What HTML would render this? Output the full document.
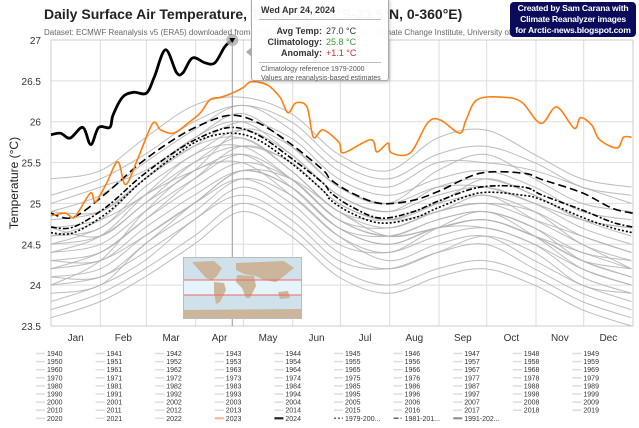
<!DOCTYPE html>
<html><head><meta charset="utf-8">
<style>
body{margin:0;background:#fff;font-family:"Liberation Sans",sans-serif;}
#wrap{position:relative;width:639px;height:428px;overflow:hidden;}
svg text{font-family:"Liberation Sans",sans-serif;}
</style></head>
<body><div id="wrap">
<svg id="chart" width="639" height="428"></svg>
</div>
<script>
const days2024=[0,6,12,20,25,30,37,39,45,52,60,65,72,79,83,89,97,103,109,112,114];
const vals2024=[25.84,25.86,25.80,25.93,25.72,25.93,25.93,26.08,26.30,26.36,26.35,26.55,26.88,26.60,26.60,26.78,26.72,26.72,26.91,26.97,27.0];
const days2023=[0,9,14,18,25,28,35,42,47,55,64,69,77,86,94,100,107,114,121,126,136,144,149,154,161,165,171,181,184,201,205,212,214,226,237,245,257,261,268,284,296,308,318,329,333,340,345,356,360,365];
const vals2023=[24.85,24.88,24.82,24.92,25.13,25.02,25.25,25.51,25.23,25.57,25.98,25.90,25.86,25.98,26.11,26.27,26.30,26.35,26.42,26.49,26.45,26.30,26.11,26.23,26.18,25.81,25.90,25.75,25.62,25.78,25.63,25.74,25.62,25.62,25.99,26.02,25.86,26.02,26.27,26.30,26.24,25.98,26.18,25.92,26.05,25.96,25.78,25.68,25.81,25.81];
const climDays=[0,14,35,56,77,94,113,130,150,171,176,189,207,228,245,270,297,309,334,353,366];
const clim9120=[24.88,24.83,25.13,25.49,25.78,25.96,26.08,25.99,25.74,25.41,25.29,25.13,25.00,25.04,25.16,25.37,25.37,25.29,25.13,24.94,24.88];
const clim8110=[24.71,24.71,24.96,25.32,25.62,25.81,25.93,25.84,25.57,25.25,25.13,24.96,24.82,24.90,25.04,25.20,25.20,25.10,24.92,24.77,24.71];
const clim7900=[24.64,24.64,24.88,25.25,25.57,25.78,25.86,25.78,25.51,25.16,25.04,24.88,24.76,24.82,24.96,25.13,25.10,25.04,24.83,24.70,24.64];
const grayDays=[0,31,59,90,120,151,181,212,243,273,304,334,365];
const graySeries=[
[24.6,24.7,25.2,25.6,25.9,25.6,25.1,24.9,25.1,25.2,25.0,24.7,24.5],
[24.4,24.5,24.9,25.3,25.6,25.3,24.8,24.7,24.9,25.0,24.9,24.6,24.4],
[24.3,24.3,24.7,25.1,25.4,25.2,24.7,24.5,24.7,24.8,24.6,24.4,24.2],
[24.8,24.9,25.3,25.7,26.0,25.8,25.3,25.1,25.3,25.4,25.2,24.9,24.8],
[24.9,25.1,25.5,25.9,26.2,25.9,25.4,25.2,25.5,25.5,25.4,25.2,25.0],
[24.1,24.2,24.6,25.0,25.3,25.0,24.5,24.4,24.6,24.7,24.5,24.2,24.0],
[24.0,24.1,24.4,24.8,25.2,24.9,24.4,24.2,24.4,24.6,24.4,24.0,23.9],
[24.5,24.6,25.0,25.5,25.8,25.4,24.9,24.8,25.0,25.1,24.9,24.5,24.3],
[24.7,24.8,25.1,25.5,25.7,25.5,25.0,24.8,25.0,25.3,25.1,24.8,24.6],
[23.9,24.0,24.5,24.9,25.3,25.1,24.6,24.3,24.5,24.6,24.3,24.0,23.8],
[24.2,24.4,24.8,25.2,25.5,25.3,24.8,24.6,24.8,24.9,24.7,24.3,24.1],
[25.1,25.3,25.6,26.0,26.2,26.0,25.5,25.3,25.6,25.7,25.5,25.2,25.1],
[24.6,24.8,25.3,25.7,25.8,25.4,24.9,24.7,24.9,25.0,24.8,24.6,24.4],
[24.3,24.4,24.8,25.3,25.7,25.5,25.0,24.8,24.9,25.1,24.8,24.5,24.2],
[23.8,24.0,24.3,24.8,25.1,24.8,24.3,24.2,24.4,24.5,24.2,23.9,23.7],
[24.5,24.7,25.1,25.4,25.6,25.2,24.7,24.6,24.8,24.9,24.7,24.4,24.3],
[25.3,25.4,25.8,26.2,26.3,26.1,25.6,25.4,25.8,25.9,25.6,25.3,25.2],
[24.2,24.3,24.6,25.0,25.4,25.2,24.7,24.5,24.7,24.7,24.5,24.1,23.9],
[23.7,23.9,24.2,24.6,25.0,24.7,24.2,24.0,24.2,24.3,24.1,23.8,23.6],
[24.0,24.3,24.9,25.4,25.5,25.1,24.6,24.4,24.7,24.9,24.6,24.2,24.0],
[24.7,24.6,25.0,25.4,25.9,25.7,25.2,25.0,25.2,25.2,25.0,24.8,24.7],
[25.0,25.2,25.4,25.8,26.1,25.7,25.2,25.0,25.4,25.6,25.3,25.0,24.9],
[24.4,24.6,25.1,25.6,25.7,25.3,24.8,24.6,24.7,24.8,24.6,24.3,24.1],
[23.6,23.8,24.1,24.5,24.9,24.6,24.1,23.9,24.1,24.2,24.0,23.7,23.5],
[24.1,24.1,24.5,25.0,25.4,25.3,24.9,24.6,24.7,24.8,24.6,24.3,24.2],
[24.9,24.9,25.3,25.8,26.0,25.6,25.1,24.9,25.2,25.3,25.1,24.8,24.7]
];
const yTicks=[23.5,24,24.5,25,25.5,26,26.5,27];
const monthLabels=["Jan","Feb","Mar","Apr","May","Jun","Jul","Aug","Sep","Oct","Nov","Dec"];
const monthStarts=[0,31,60,91,121,152,182,213,244,274,305,335,366];

const NS="http://www.w3.org/2000/svg";
const svg=document.getElementById('chart');
const L=51,R=633,T=40,B=326,ymin=23.5,ymax=27;
function xS(d){return L+d/366*(R-L);}
function yS(v){return B-(v-ymin)/(ymax-ymin)*(B-T);}
function mk(tag,attrs,parent){const e=document.createElementNS(NS,tag);for(const k in attrs)e.setAttribute(k,attrs[k]);(parent||svg).appendChild(e);return e;}
function smooth(pts){let d="M"+pts[0][0].toFixed(1)+","+pts[0][1].toFixed(1);for(let i=0;i<pts.length-1;i++){const p0=pts[i-1]||pts[i],p1=pts[i],p2=pts[i+1],p3=pts[i+2]||p2;const c1x=p1[0]+(p2[0]-p0[0])/6,c1y=p1[1]+(p2[1]-p0[1])/6,c2x=p2[0]-(p3[0]-p1[0])/6,c2y=p2[1]-(p3[1]-p1[1])/6;d+=` C${c1x.toFixed(1)},${c1y.toFixed(1)} ${c2x.toFixed(1)},${c2y.toFixed(1)} ${p2[0].toFixed(1)},${p2[1].toFixed(1)}`;}return d;}
function series(ds,vs){return ds.map((d,i)=>[xS(d),yS(vs[i])]);}

yTicks.forEach(t=>{
  const g=mk('line',{x1:L,x2:R,y1:yS(t),y2:yS(t),stroke:'#ddd','stroke-width':1});
  
  
  const tx=mk('text',{x:41,y:yS(t)+4,'text-anchor':'end','font-size':10,fill:'#333'});
  tx.textContent=t;
  
  
});
monthStarts.forEach(m=>{
  const g=mk('line',{x1:xS(m),x2:xS(m),y1:T,y2:B,stroke:'#ddd','stroke-width':1});
  
  
});
monthLabels.forEach((m,i)=>{
  const tx=mk('text',{x:xS((monthStarts[i]+monthStarts[i+1])/2),y:341,'text-anchor':'middle','font-size':10,fill:'#333'});
  tx.textContent=m;
  
  
});
mk('rect',{x:L,y:T,width:R-L,height:B-T,fill:'none',stroke:'#ccc'});
const yt=mk('text',{x:0,y:0,transform:'translate(18,183) rotate(-90)','text-anchor':'middle','font-size':12,fill:'#222'});
yt.textContent='Temperature (°C)';



graySeries.forEach(s=>{
  const p=mk('path',{d:smooth(series(grayDays,s)),fill:'none',stroke:'#b0b0b0','stroke-width':1,opacity:0.85});
  
  
});
[[clim7900,'2,2','clim-1979-2000'],[clim8110,'6,2,2,2','clim-1981-2010'],[clim9120,'8,4','clim-1991-2020']].forEach(c=>{
  const p=mk('path',{d:smooth(series(climDays,c[0])),fill:'none',stroke:'#000','stroke-width':1.6,'stroke-dasharray':c[1]});
  
  
});
const p23=mk('path',{d:smooth(series(days2023,vals2023)),fill:'none',stroke:'#ff7f0e','stroke-width':1.6});


const p24=mk('path',{d:smooth(series(days2024,vals2024)),fill:'none',stroke:'#000','stroke-width':2.8});



const lastX=xS(days2024[days2024.length-1]),lastY=yS(vals2024[vals2024.length-1]);
const ch=mk('line',{x1:lastX,x2:lastX,y1:T,y2:B,stroke:'#999','stroke-width':1});


const mc=mk('circle',{cx:lastX,cy:lastY,r:6,fill:'#aaa',opacity:0.8});


mk('path',{d:`M${lastX-3},${lastY-2} L${lastX+3},${lastY-2} L${lastX},${lastY+3} Z`,fill:'#000'});

let all=[];
for(let y=1940;y<=1949;y++)all.push(y);
for(let y=1950;y<=1959;y++)all.push(y);
for(let y=1960;y<=2022;y++)all.push(y);
all.push(2023,2024,'1979-200...','1981-201...','1991-202...');
all.forEach((y,i)=>{
  const r=Math.floor(i/10),c=i%10;
  const x0=36+c*59.6,y0=356+r*8.1;
  let st={stroke:'#ddd',w:1.5,da:''};
  if(y===2023)st={stroke:'#ffb08a',w:2,da:''};
  if(y===2024)st={stroke:'#222',w:2.2,da:''};
  if(y==='1979-200...')st={stroke:'#666',w:1.5,da:'2,2'};
  if(y==='1981-201...')st={stroke:'#666',w:1.5,da:'5,2,1,2'};
  if(y==='1991-202...')st={stroke:'#888',w:2,da:''};
  const g=mk('g',{});
  
  
  mk('line',{x1:x0,x2:x0+9,y1:y0-2.5,y2:y0-2.5,stroke:st.stroke,'stroke-width':st.w,'stroke-dasharray':st.da},g);
  const t=mk('text',{x:x0+11,y:y0,'font-size':7,fill:'#333'},g);
  t.textContent=y;
});

const tt=mk('text',{x:44,y:19,'font-size':14,'font-weight':'bold',fill:'#222'});
tt.textContent='Daily Surface Air Temperature, Tropics (23.5°S-23.5°N, 0-360°E)';


const st=mk('text',{x:44,y:35,'font-size':8,fill:'#666'});
st.textContent='Dataset: ECMWF Reanalysis v5 (ERA5) downloaded from C3S | Image: Climate Reanalyzer, Climate Change Institute, University of Maine';


</script>

<div style="position:absolute;left:183px;top:257px;width:117px;height:60px;background:#cfe1ea;border:1px solid #bbb;overflow:hidden;">
 <svg width="117" height="60">
  <rect x="0" y="22" width="117" height="15" fill="#e4f4fa"/>
  <path d="M8,4 L30,3 L38,10 L33,18 L28,22 L22,20 L15,12 Z" fill="#cbb59b"/>
  <path d="M30,24 L40,25 L42,32 L36,44 L32,46 L30,34 Z" fill="#cbb59b"/>
  <path d="M52,5 L100,3 L110,10 L100,18 L92,24 L80,22 L72,18 L60,16 L52,12 Z" fill="#cbb59b"/>
  <path d="M53,17 L70,18 L72,28 L66,40 L62,40 L58,30 L52,24 Z" fill="#cbb59b"/>
  <path d="M94,34 L104,33 L106,40 L96,41 Z" fill="#cbb59b"/>
  <path d="M0,52 L117,51 L117,60 L0,60 Z" fill="#cbb59b"/>
  <line x1="0" y1="22" x2="117" y2="22" stroke="#e66" stroke-width="1"/>
  <line x1="0" y1="37" x2="117" y2="37" stroke="#e66" stroke-width="1"/>
 </svg>
</div>

<div style="position:absolute;left:251px;top:-2px;width:136px;height:81px;background:rgba(255,255,255,0.97);border:1px solid #aaa;border-radius:3px;box-shadow:1px 1px 3px rgba(0,0,0,0.2);font-size:9px;color:#333;">
 <div style="position:absolute;left:-6px;top:48px;width:0;height:0;border-top:5px solid transparent;border-bottom:5px solid transparent;border-right:6px solid #aaa;"></div>
 <div style="position:absolute;left:9px;top:6px;font-weight:bold;">Wed Apr 24, 2024</div>
 <div style="position:absolute;left:7px;right:7px;top:20px;border-top:1px solid #bbb;"></div>
 <div style="position:absolute;left:0;width:70px;text-align:right;top:27px;font-weight:bold;">Avg Temp:</div>
 <div style="position:absolute;left:74px;top:27px;">27.0 °C</div>
 <div style="position:absolute;left:0;width:70px;text-align:right;top:38px;font-weight:bold;">Climatology:</div>
 <div style="position:absolute;left:74px;top:38px;color:#3a9a3a;">25.8 °C</div>
 <div style="position:absolute;left:0;width:70px;text-align:right;top:49px;font-weight:bold;">Anomaly:</div>
 <div style="position:absolute;left:74px;top:49px;color:#c03030;">+1.1 °C</div>
 <div style="position:absolute;left:7px;right:7px;top:63px;border-top:1px solid #bbb;"></div>
 <div style="position:absolute;left:9px;top:66px;font-size:7px;color:#555;line-height:9px;white-space:nowrap;">Climatology reference 1979-2000<br>Values are reanalysis-based estimates</div>
</div>

<div style="position:absolute;left:510px;top:2px;width:126px;height:35px;background:#0b0b5c;border-radius:4px;color:#fff;font-weight:bold;font-size:8.6px;line-height:11px;text-align:center;padding-top:1px;box-sizing:border-box;white-space:nowrap;letter-spacing:-0.2px;">Created by Sam Carana with<br>Climate Reanalyzer images<br>for Arctic-news.blogspot.com</div>
</body></html>
